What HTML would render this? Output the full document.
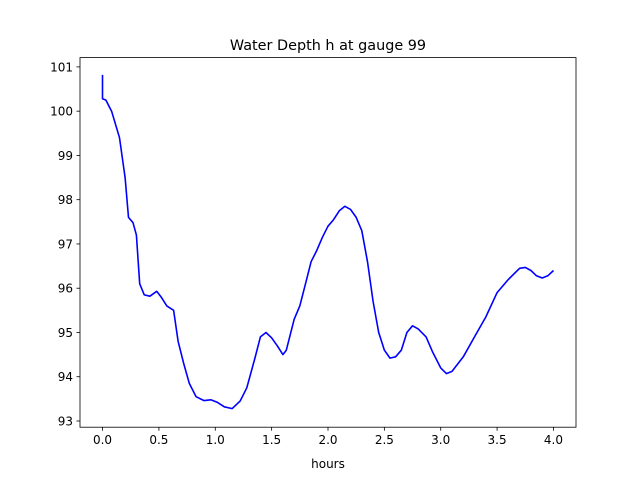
<!DOCTYPE html>
<html><head><meta charset="utf-8"><style>
body{margin:0;background:#fff;}
svg text{font-family:"DejaVu Sans","Liberation Sans",sans-serif;fill:#000;}
</style></head><body>
<svg id="chart" width="640" height="480" xmlns="http://www.w3.org/2000/svg">
<rect width="640" height="480" fill="#fff"/>
<text x="328" y="50" font-size="14.4" text-anchor="middle">Water Depth h at gauge 99</text>
<text x="328" y="468" font-size="12" text-anchor="middle">hours</text>
<g id="axes"></g>
<polyline id="line" fill="none" stroke="#0000ff" stroke-width="1.6" stroke-linejoin="round"/>
<rect x="80" y="57.6" width="496" height="369.6" fill="none" stroke="#000" stroke-width="0.8"/>
</svg>
<script>
const hours=[0,0,0.03,0.08,0.15,0.2,0.23,0.27,0.3,0.33,0.37,0.42,0.48,0.52,0.57,0.63,0.67,0.72,0.77,0.83,0.9,0.96,1.02,1.08,1.15,1.22,1.28,1.35,1.4,1.45,1.5,1.55,1.6,1.63,1.7,1.75,1.8,1.85,1.9,1.95,2.0,2.05,2.1,2.15,2.2,2.25,2.3,2.35,2.4,2.45,2.5,2.55,2.6,2.65,2.7,2.75,2.8,2.87,2.93,3.0,3.05,3.1,3.2,3.3,3.4,3.5,3.6,3.7,3.75,3.8,3.85,3.9,3.95,4.0];
const depth=[100.82,100.28,100.25,100.0,99.4,98.5,97.6,97.48,97.2,96.1,95.85,95.82,95.93,95.8,95.6,95.5,94.8,94.3,93.85,93.55,93.46,93.48,93.42,93.32,93.28,93.45,93.75,94.4,94.9,95.0,94.88,94.7,94.5,94.6,95.3,95.6,96.1,96.6,96.85,97.15,97.4,97.55,97.75,97.85,97.78,97.6,97.3,96.6,95.7,95.0,94.6,94.42,94.45,94.6,95.0,95.15,95.08,94.9,94.55,94.2,94.07,94.12,94.45,94.9,95.35,95.9,96.2,96.45,96.47,96.4,96.28,96.23,96.28,96.4];
const xTicks=[0,0.5,1.0,1.5,2.0,2.5,3.0,3.5,4.0];
const yTicks=[93,94,95,96,97,98,99,100,101];
const X0=80,X1=576,Y0=427.2,Y1=57.6,xmin=-0.2,xmax=4.2,ymin=92.86,ymax=101.21;
const sx=v=>X0+(v-xmin)/(xmax-xmin)*(X1-X0);
const sy=v=>Y0-(v-ymin)/(ymax-ymin)*(Y0-Y1);
const NS="http://www.w3.org/2000/svg";
const ax=document.getElementById('axes');
function mk(t,a){const e=document.createElementNS(NS,t);for(const k in a)e.setAttribute(k,a[k]);ax.appendChild(e);return e;}
xTicks.forEach(t=>{
 const l=mk('line',{x1:sx(t),x2:sx(t),y1:Y0,y2:Y0+3.5,stroke:'#000','stroke-width':0.8});
 
 
 const s=mk('text',{x:sx(t),y:Y0+17,'font-size':12,'text-anchor':'middle'});
 s.textContent=t.toFixed(1);
 
 
});
yTicks.forEach(t=>{
 const l=mk('line',{x1:X0-3.5,x2:X0,y1:sy(t),y2:sy(t),stroke:'#000','stroke-width':0.8});
 
 
 const s=mk('text',{x:X0-7,y:sy(t)+4.5,'font-size':12,'text-anchor':'end'});
 s.textContent=t;
 
 
});
document.getElementById('line').setAttribute('points',hours.map((h,i)=>sx(h).toFixed(1)+','+sy(depth[i]).toFixed(1)).join(' '));
</script>
</body></html>
